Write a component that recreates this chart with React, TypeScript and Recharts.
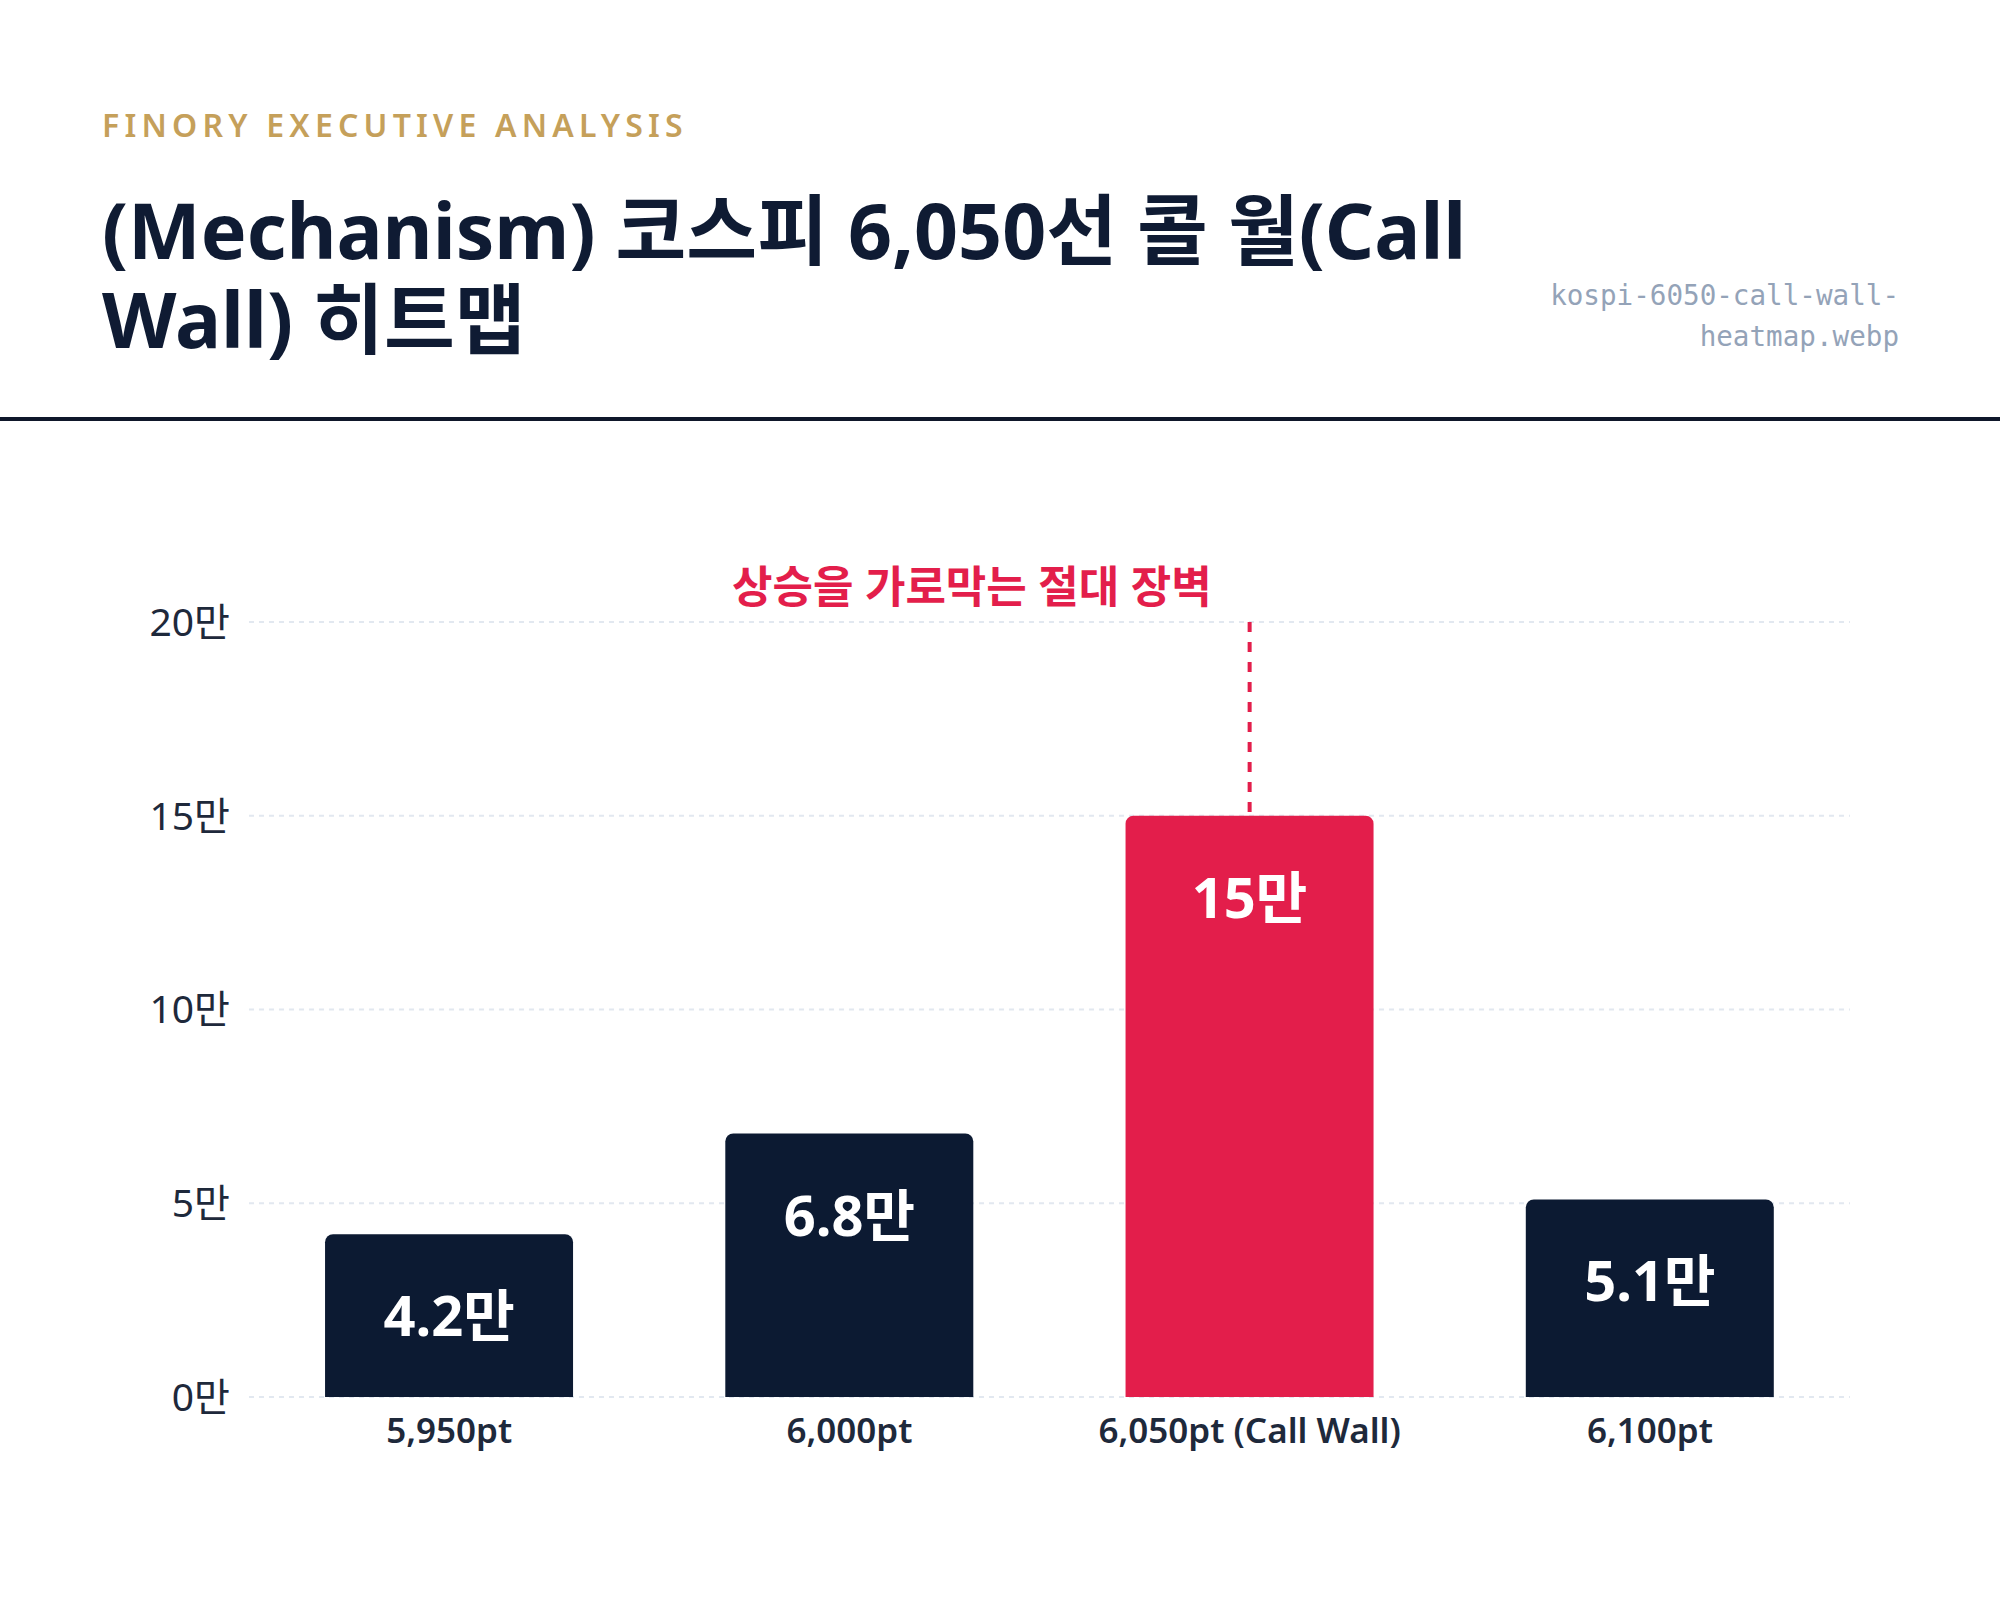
import React from "react";
import { BarChart, Bar, XAxis, YAxis, CartesianGrid, ReferenceLine, LabelList, Cell } from "recharts";

const strikes = ["5,950pt", "6,000pt", "6,050pt (Call Wall)", "6,100pt"];
const openInterest = [42000, 68000, 150000, 51000];
const yTicks = [0, 50000, 100000, 150000, 200000];
const wallStrike = "6,050pt (Call Wall)";
const wallTop = 200000;
const wallNote = "상승을 가로막는 절대 장벽";

const NAVY = "#0c1a32";
const RED = "#e31e4b";
const FONT = "'Noto Sans', 'Noto Sans CJK KR', sans-serif";

const data = strikes.map((name, i) => ({ name, oi: openInterest[i] }));

const toMan = (v: number) => `${Math.round((v / 10000) * 10) / 10}만`;

const BarValue = (props: any) => {
  const { x, y, width, value } = props;
  return (
    <text
      x={x + width / 2}
      y={y + 80}
      textAnchor="middle"
      dominantBaseline="central"
      fill="#ffffff"
      fontSize={56}
      fontWeight={700}
    >
      {toMan(value)}
    </text>
  );
};

const WallLabel = (props: any) => {
  const { viewBox } = props;
  if (!viewBox) return null;
  return (
    <text
      x={viewBox.x - 38}
      y={viewBox.y - 36}
      textAnchor="end"
      dominantBaseline="central"
      fill={RED}
      fontSize={44}
      fontWeight={700}
    >
      {wallNote}
    </text>
  );
};

export default function App() {
  return (
    <div
      style={{
        position: "absolute",
        top: 0,
        left: 0,
        width: 2000,
        height: 1622,
        background: "#ffffff",
        fontFamily: FONT,
        overflow: "hidden",
      }}
    >
      <div
        style={{
          position: "absolute",
          top: 109,
          left: 102,
          fontSize: 32,
          lineHeight: "32px",
          letterSpacing: 5.2,
          fontWeight: 600,
          color: "#c5a05a",
        }}
      >
        FINORY EXECUTIVE ANALYSIS
      </div>
      <div
        style={{
          position: "absolute",
          top: 185,
          left: 102,
          fontSize: 77,
          lineHeight: "89px",
          fontWeight: 700,
          color: "#0f1b33",
          whiteSpace: "nowrap",
        }}
      >
        (Mechanism) 코스피 6,050선 콜 월(Call
        <br />
        Wall) 히트맵
      </div>
      <div
        style={{
          position: "absolute",
          top: 275,
          right: 101,
          fontFamily: "'DejaVu Sans Mono', monospace",
          fontSize: 27.6,
          lineHeight: "41px",
          color: "#94a3b8",
          textAlign: "right",
        }}
      >
        kospi-6050-call-wall-
        <br />
        heatmap.webp
      </div>
      <div style={{ position: "absolute", top: 417, left: 0, width: 2000, height: 4, background: "#0f172a" }} />

      <div style={{ position: "absolute", top: 0, left: 0 }}>
        <BarChart
          width={2000}
          height={1622}
          data={data}
          margin={{ top: 622, right: 150, bottom: 165, left: 0 }}
          barCategoryGap="19%"
        >
          <CartesianGrid vertical={false} stroke="#e2e8f0" strokeWidth={2} strokeDasharray="5 5" />
          <XAxis
            dataKey="name"
            height={60}
            axisLine={false}
            tickLine={false}
            tickMargin={15}
            tick={{ fill: "#1e293b", fontSize: 35, fontWeight: 600 }}
          />
          <YAxis
            width={249}
            domain={[0, 200000]}
            ticks={yTicks}
            axisLine={false}
            tickLine={false}
            tickMargin={13}
            tickFormatter={toMan}
            tick={{ fill: "#1e293b", fontSize: 39 }}
          />
          <Bar dataKey="oi" radius={[8, 8, 0, 0]} isAnimationActive={false}>
            {data.map((d) => (
              <Cell key={d.name} fill={d.name === wallStrike ? RED : NAVY} />
            ))}
            <LabelList dataKey="oi" content={<BarValue />} />
          </Bar>
          <ReferenceLine
            segment={[
              { x: wallStrike, y: wallTop },
              { x: wallStrike, y: openInterest[strikes.indexOf(wallStrike)] },
            ]}
            stroke={RED}
            strokeWidth={4}
            strokeDasharray="10 10"
            label={<WallLabel />}
          />
        </BarChart>
      </div>
    </div>
  );
}
